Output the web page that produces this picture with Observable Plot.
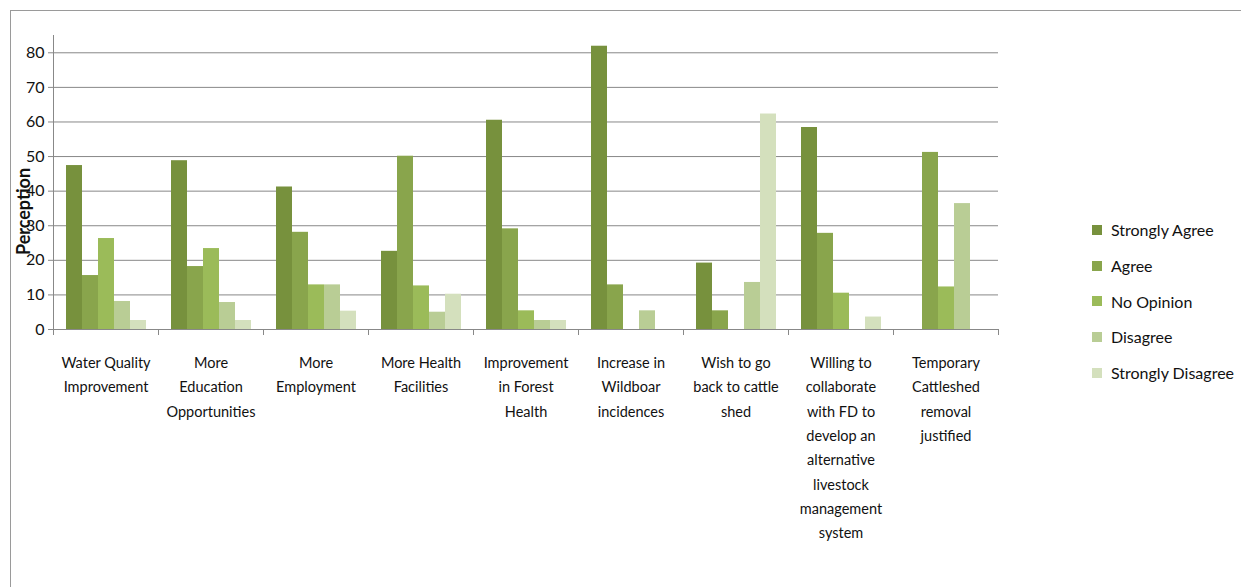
<!DOCTYPE html>
<html><head><meta charset="utf-8">
<script src="https://cdn.jsdelivr.net/npm/d3@7"></script>
<script src="https://cdn.jsdelivr.net/npm/@observablehq/plot@0.6"></script>
<style>
body{margin:0;background:#fff;width:1244px;height:587px;overflow:hidden;position:relative;font-family:Lato,sans-serif;}
#box{position:absolute;left:10px;top:10px;width:1230px;height:600px;border-top:1.5px solid #9a9a9a;border-left:1.5px solid #9a9a9a;}
#chart{position:absolute;left:0;top:0;}
#legend{position:absolute;left:1092px;top:212px;}
.item{display:flex;align-items:center;height:35.7px;font-size:16px;color:#111;white-space:nowrap}
.sw{width:10px;height:10px;margin-right:9px;flex:none}
</style></head><body>
<div id="box"></div><div id="chart"></div><div id="legend"></div>
<script>
const categories = ["Water Quality Improvement","More Education Opportunities","More Employment","More Health Facilities","Improvement in Forest Health","Increase in Wildboar incidences","Wish to go back to cattle shed","Willing to collaborate with FD to develop an alternative livestock management system","Temporary Cattleshed removal justified"];
const catLabels = ["Water Quality\nImprovement","More\nEducation\nOpportunities","More\nEmployment","More Health\nFacilities","Improvement\nin Forest\nHealth","Increase in\nWildboar\nincidences","Wish to go\nback to cattle\nshed","Willing to\ncollaborate\nwith FD to\ndevelop an\nalternative\nlivestock\nmanagement\nsystem","Temporary\nCattleshed\nremoval\njustified"];
const series = ["Strongly Agree","Agree","No Opinion","Disagree","Strongly Disagree"];
const colors = ["#77913d","#89a54c","#9bbb59","#b9cd95","#d4e0bd"];
const stronglyAgree    = [47.4, 48.8, 41.2, 22.6, 60.5, 81.9, 19.2, 58.4, 0];
const agree            = [15.6, 18.2, 28.1, 50.1, 29.1, 12.9, 5.4, 27.8, 51.2];
const noOpinion        = [26.3, 23.4, 12.9, 12.6, 5.4, 0, 0, 10.5, 12.3];
const disagree         = [8.1, 7.8, 12.9, 5.0, 2.6, 5.4, 13.6, 0, 36.4];
const stronglyDisagree = [2.6, 2.6, 5.3, 10.2, 2.6, 0, 62.3, 3.6, 0];
const yTicks = [0, 10, 20, 30, 40, 50, 60, 70, 80];

const seriesValues = [stronglyAgree, agree, noOpinion, disagree, stronglyDisagree];
const table = [];
categories.forEach((c, i) => series.forEach((s, j) => table.push({category: c, series: s, value: seriesValues[j][i]})));

const FONT = 'Lato,sans-serif';
const GRAY = "#888";
const plot = Plot.plot({
  width: 1244, height: 587,
  marginLeft: 53, marginRight: 246, marginTop: 35, marginBottom: 258,
  style: {fontFamily: FONT, color: "#111", background: "transparent", overflow: "visible"},
  fx: {domain: categories, padding: 0, label: null},
  x: {domain: series, paddingInner: 0, paddingOuter: 0.74, axis: null},
  y: {domain: [0, 85], label: null},
  color: {domain: series, range: colors},
  marks: [
    Plot.gridY(yTicks, {stroke: GRAY, strokeOpacity: 1}),
    Plot.axisY(yTicks, {tickSize: 5, tickPadding: 4, fontSize: 16, stroke: GRAY, label: null}),
    Plot.barY(table, {fx: "category", x: "series", y: "value", fill: "series", inset: 0}),
    Plot.ruleY([0], {stroke: GRAY}),
    Plot.frame({anchor: "left", facetAnchor: "left", stroke: GRAY, insetBottom: -5}),
    Plot.frame({anchor: "left", stroke: GRAY, insetTop: 294, insetBottom: -5}),
    Plot.frame({anchor: "right", facetAnchor: "right", stroke: GRAY, insetTop: 294, insetBottom: -5}),
    Plot.axisFx({anchor: "bottom", tickSize: 0, tickPadding: 21, fontSize: 14.5, lineHeight: 1.68,
      tickFormat: d => catLabels[categories.indexOf(d)], label: null}),
    Plot.text(["Perception"], {frameAnchor: "left", facetAnchor: "left", textAnchor: "middle", rotate: -90, dx: -29, dy: 29,
      fontWeight: "bold", fontSize: 18, fill: "#111"})
  ]
});
document.getElementById("chart").appendChild(plot);

const legend = document.getElementById("legend");
series.forEach((s, j) => {
  const item = document.createElement("div");
  item.className = "item";
  const sw = document.createElement("span");
  sw.className = "sw";
  sw.style.background = colors[j];
  const t = document.createElement("span");
  t.textContent = s;
  item.appendChild(sw); item.appendChild(t);
  legend.appendChild(item);
});
</script>
</body></html>
